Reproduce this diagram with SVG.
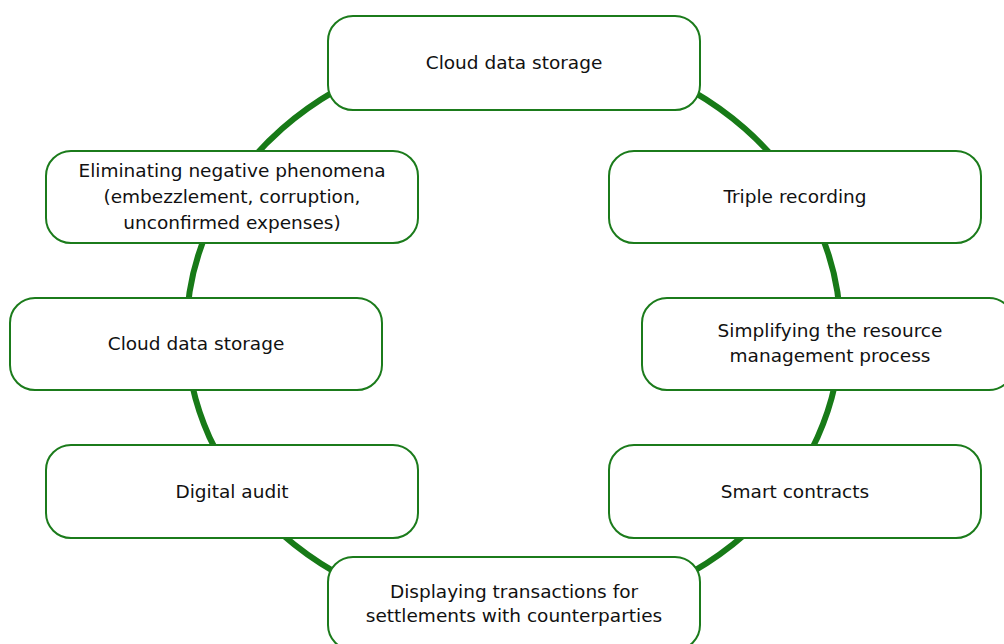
<svg xmlns="http://www.w3.org/2000/svg" width="1004" height="644" viewBox="0 0 1004 644">
<style>
.ring{fill:none;stroke:#177a17;stroke-width:6}
.box{fill:#ffffff;stroke:#1b7b1b;stroke-width:2}
.t{font-family:"DejaVu Sans",sans-serif;font-size:18.5px;fill:#111111;text-anchor:middle}
</style>
<rect width="1004" height="644" fill="#ffffff"/>
<g id="connectors">
<ellipse class="ring" cx="513.5" cy="331.5" rx="327" ry="287"/>
</g>
<g id="n1"><rect class="box" x="328" y="16" width="372" height="94" rx="25"/><text class="t" x="514" y="69">Cloud data storage</text></g>
<g id="n2"><rect class="box" x="609" y="151" width="372" height="92" rx="25"/><text class="t" x="795" y="203">Triple recording</text></g>
<g id="n3"><rect class="box" x="642" y="298" width="372" height="92" rx="25"/><text class="t" x="830" y="337">Simplifying the resource</text><text class="t" x="830" y="362">management process</text></g>
<g id="n4"><rect class="box" x="609" y="445" width="372" height="93" rx="25"/><text class="t" x="795" y="498">Smart contracts</text></g>
<g id="n5"><rect class="box" x="328" y="557" width="372" height="93" rx="25"/><text class="t" x="514" y="598">Displaying transactions for</text><text class="t" x="514" y="622">settlements with counterparties</text></g>
<g id="n6"><rect class="box" x="46" y="445" width="372" height="93" rx="25"/><text class="t" x="232" y="498">Digital audit</text></g>
<g id="n7"><rect class="box" x="10" y="298" width="372" height="92" rx="25"/><text class="t" x="196" y="350">Cloud data storage</text></g>
<g id="n8"><rect class="box" x="46" y="151" width="372" height="92" rx="25"/><text class="t" x="232" y="177">Eliminating negative phenomena</text><text class="t" x="232" y="203">(embezzlement, corruption,</text><text class="t" x="232" y="229">unconfirmed expenses)</text></g>
</svg>
